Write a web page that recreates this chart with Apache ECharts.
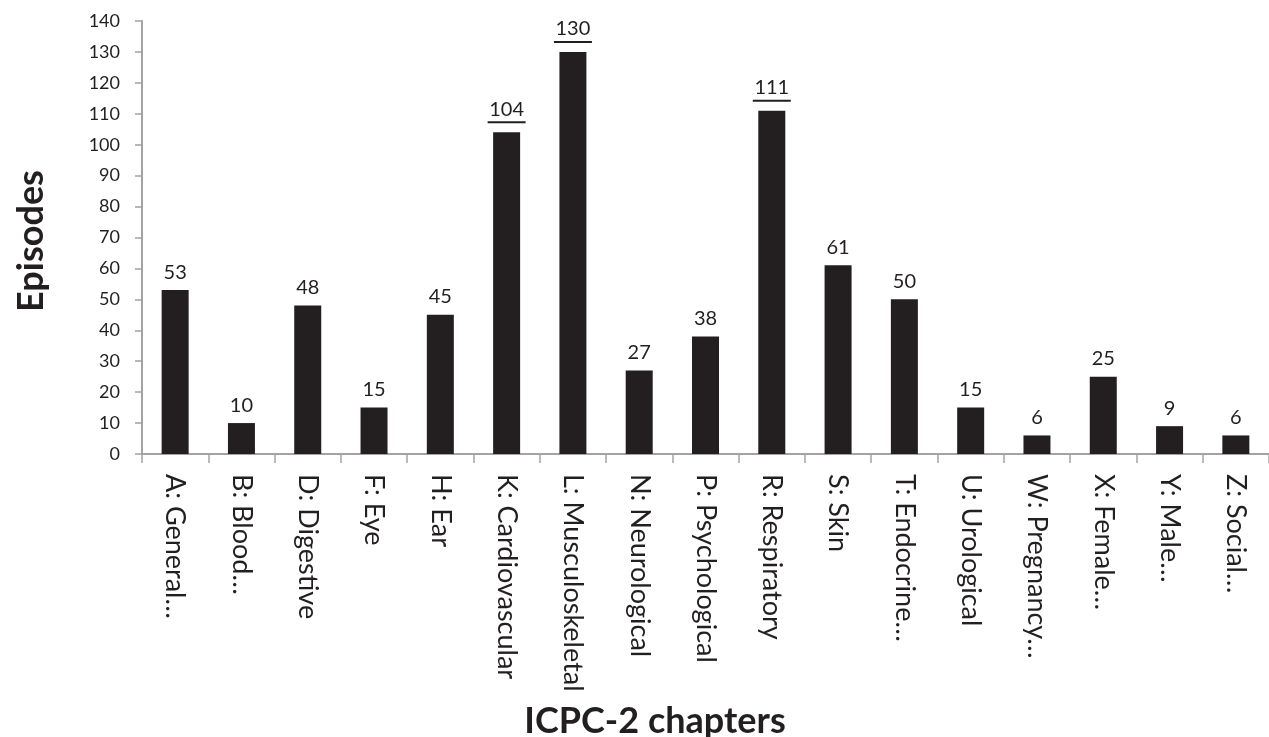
<!DOCTYPE html>
<html>
<head>
<meta charset="utf-8">
<script src="https://cdn.jsdelivr.net/npm/echarts@6/dist/echarts.min.js"></script>
<style>
  html, body { margin: 0; padding: 0; background: #ffffff; }
  #chart { width: 1269px; height: 737px; }
</style>
</head>
<body>
<div id="chart"></div>
<script>
// ICPC-2 chapter labels (truncated as in the source table)
const categories = [
  'A: General…', 'B: Blood…', 'D: Digestive', 'F: Eye', 'H: Ear',
  'K: Cardiovascular', 'L: Musculoskeletal', 'N: Neurological', 'P: Psychological',
  'R: Respiratory', 'S: Skin', 'T: Endocrine…', 'U: Urological', 'W: Pregnancy…',
  'X: Female…', 'Y: Male…', 'Z: Social…'
];
// Number of episodes per chapter
const episodes = [53, 10, 48, 15, 45, 104, 130, 27, 38, 111, 61, 50, 15, 6, 25, 9, 6];
// Chapters whose value labels are underlined
const highlighted = ['K: Cardiovascular', 'L: Musculoskeletal', 'R: Respiratory'];

const ink = '#231f20';
const axisGray = '#a3a3a3';
const font = 'Lato, "Open Sans", sans-serif';

const chart = echarts.init(document.getElementById('chart'), null, { renderer: 'canvas' });

const barData = episodes.map((v, i) => {
  const item = { value: v };
  if (highlighted.includes(categories[i])) {
    item.label = { formatter: '{v|{c}}\n{u| }' };
  }
  return item;
});

chart.setOption({
  backgroundColor: '#ffffff',
  animation: false,
  grid: { left: 142, top: 21, bottom: 283, width: 1134, containLabel: false },
  xAxis: {
    type: 'category',
    data: categories,
    boundaryGap: true,
    axisLine: { lineStyle: { color: axisGray, width: 2 } },
    axisTick: { show: true, alignWithLabel: false, length: 9, lineStyle: { color: axisGray, width: 1.5 } },
    axisLabel: {
      rotate: -90,
      interval: 0,
      margin: 20,
      color: ink,
      fontFamily: font,
      fontSize: 27
    },
    splitLine: { show: false }
  },
  yAxis: {
    type: 'value',
    min: 0,
    max: 140,
    interval: 10,
    axisLine: { show: true, lineStyle: { color: axisGray, width: 2 } },
    axisTick: { show: true, length: 7, lineStyle: { color: axisGray, width: 1.5 } },
    axisLabel: { margin: 22, color: ink, fontFamily: font, fontSize: 18 },
    splitLine: { show: false }
  },
  series: [{
    type: 'bar',
    data: barData,
    barWidth: 27,
    itemStyle: { color: ink },
    label: {
      show: true,
      position: 'top',
      distance: 8,
      color: ink,
      fontFamily: font,
      fontSize: 20,
      formatter: '{c}',
      rich: {
        v: { color: ink, fontFamily: font, fontSize: 20, lineHeight: 22 },
        u: { width: 38, height: 2, lineHeight: 4, fontSize: 1, backgroundColor: ink }
      }
    }
  }],
  graphic: [
    {
      type: 'text',
      x: 31,
      y: 241,
      rotation: Math.PI / 2,
      style: {
        text: 'Episodes',
        fill: ink,
        font: 'bold 36px ' + font,
        align: 'center',
        verticalAlign: 'middle'
      }
    },
    {
      type: 'text',
      x: 655,
      y: 721,
      style: {
        text: 'ICPC-2 chapters',
        fill: ink,
        font: 'bold 36px ' + font,
        align: 'center',
        verticalAlign: 'middle'
      }
    }
  ]
});
</script>
</body>
</html>
